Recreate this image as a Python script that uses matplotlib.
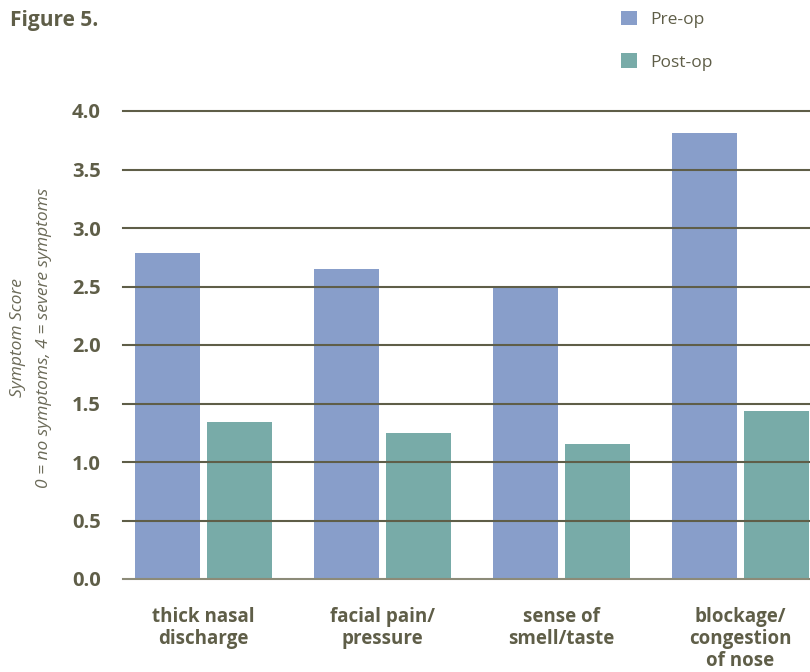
import numpy as np
import matplotlib
matplotlib.use('Agg')
import matplotlib.pyplot as plt

# Datos del gráfico
categorias = ['thick nasal\ndischarge', 'facial pain/\npressure', 'sense of\nsmell/taste', 'blockage/\ncongestion\nof nose']
pre_op = [2.79, 2.65, 2.50, 3.81]
post_op = [1.34, 1.25, 1.15, 1.44]
yticks = [0.0, 0.5, 1.0, 1.5, 2.0, 2.5, 3.0, 3.5, 4.0]

COLOR_PRE = '#889ECA'
COLOR_POST = '#78ABA8'
COLOR_TXT = '#5f5e48'

plt.rcParams['font.family'] = ['Open Sans', 'DejaVu Sans']

fig = plt.figure(figsize=(8.1, 6.72), dpi=100)
ax = fig.add_axes([123/810, 1 - 579/672, 1 - 123/810, (579 - 111)/672])

x = np.arange(len(categorias))
ancho = 0.363
sep = 0.402
ax.bar(x - sep/2, pre_op, ancho, color=COLOR_PRE, label='Pre-op', zorder=1)
ax.bar(x + sep/2, post_op, ancho, color=COLOR_POST, label='Post-op', zorder=1)

# Líneas horizontales por encima de las barras
for y in yticks:
    c = '#8c8b78' if y == 0 else '#5f5e48'
    ax.axhline(y, color=c, lw=1.5, zorder=3, clip_on=False)

ax.set_xlim(-0.45, 3.39)
ax.set_ylim(0, 4.0)
ax.set_yticks(yticks)
ax.set_yticklabels([f'{v:.1f}' for v in yticks], fontsize=14.5, fontweight='bold', color=COLOR_TXT)
ax.set_xticks(x)
ax.set_xticklabels(categorias, fontsize=13.5, fontweight='bold', color=COLOR_TXT, linespacing=1.15)
ax.tick_params(axis='y', length=0, pad=16)
ax.tick_params(axis='x', length=0, pad=20)
for s in ax.spines.values():
    s.set_visible(False)

fig.text(0.022, 0.497, 'Symptom Score', rotation=90, ha='center', va='center',
         fontsize=12.5, style='italic', color='#6b6a58')
fig.text(0.054, 0.497, '0 = no symptoms, 4 = severe symptoms', rotation=90, ha='center', va='center',
         fontsize=12.5, style='italic', color='#6b6a58')

fig.text(0.012, 0.97, 'Figure 5.', fontsize=15, fontweight='bold', color=COLOR_TXT, va='center')

leg = ax.legend(loc='upper left', bbox_to_anchor=(621/810, 1 - 11/672), bbox_transform=fig.transFigure,
                frameon=False, fontsize=12.5, handlelength=0.9, handleheight=0.9, handletextpad=0.8,
                labelspacing=1.45, borderpad=0, borderaxespad=0)
for t in leg.get_texts():
    t.set_color(COLOR_TXT)

fig.savefig('out.png', dpi=100)
